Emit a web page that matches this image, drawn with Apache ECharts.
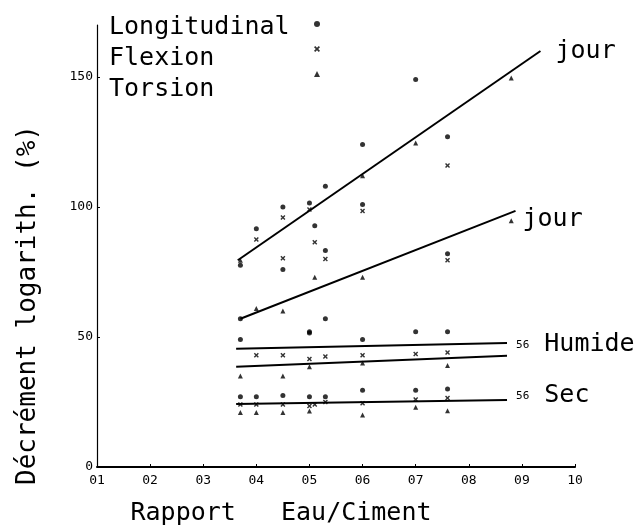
<!DOCTYPE html>
<html><head><meta charset="utf-8">
<script src="https://cdn.jsdelivr.net/npm/echarts/dist/echarts.min.js"></script>
<style>html,body{margin:0;padding:0;background:#fff}#c{width:636px;height:531px}</style>
</head><body><div id="c"></div>
<script>
// ---- data ----
const xTickLabels = ['01','02','03','04','05','06','07','08','09','10'];
const yTickValues = [0, 50, 100, 150];
const seriesNames = ['Longitudinal', 'Flexion', 'Torsion'];

const longitudinal = [
  [0.37,77.6],[0.40,91.6],[0.45,100],[0.45,76],[0.50,101.5],[0.51,92.8],[0.53,108],[0.53,83.3],
  [0.60,124],[0.60,101],[0.70,149],[0.76,127],[0.76,82],
  [0.37,57],[0.53,57],[0.50,52],[0.60,49],[0.70,52],[0.76,52],[0.37,49],[0.50,51.5],
  [0.37,27],[0.40,27],[0.45,27.5],[0.50,27],[0.53,27],[0.60,29.5],[0.70,29.5],[0.76,30]
];
const flexion = [
  [0.40,87.5],[0.45,96],[0.45,80.3],[0.50,99],[0.51,86.4],[0.53,80],[0.60,98.5],[0.76,116],[0.76,79.5],
  [0.40,43],[0.45,43],[0.50,41.5],[0.53,42.5],[0.60,43],[0.70,43.5],[0.76,44],
  [0.37,24],[0.40,24],[0.45,24],[0.50,23.5],[0.51,24],[0.53,25],[0.60,24.5],[0.70,26],[0.76,26.5]
];
const torsion = [
  [0.37,79.5],[0.51,73],[0.60,112],[0.60,73],[0.70,124.6],[0.88,149.6],[0.88,94.7],
  [0.40,61],[0.45,60],[0.37,35],[0.45,35],[0.50,38.6],[0.60,40],[0.76,39],
  [0.37,21],[0.40,21],[0.45,21],[0.50,21.5],[0.60,20],[0.70,23],[0.76,21.6]
];

const jourUpper   = [[0.365,79.5],[0.935,160]];
const jourLower   = [[0.37,57],[0.888,98.5]];
const humideUpper = [[0.362,45.5],[0.872,47.7]];
const humideLower = [[0.362,38.6],[0.872,42.8]];
const secLine     = [[0.362,24.2],[0.872,25.8]];

// ---- chart ----
const MONO = '"DejaVu Sans Mono", "Liberation Mono", monospace';
const xSym = 'path://M0,2 L2,0 L5,3 L8,0 L10,2 L7,5 L10,8 L8,10 L5,7 L2,10 L0,8 L3,5 Z';

function lineSeries(data, label, opts) {
  return Object.assign({
    type: 'line', data: data, showSymbol: false, symbol: 'none', silent: true,
    lineStyle: { color: '#000', width: 2 },
    endLabel: label ? Object.assign({ show: true, color: '#000', fontFamily: MONO, fontSize: 25 }, label) : { show: false }
  }, opts || {});
}

const chart = echarts.init(document.getElementById('c'), null, { renderer: 'canvas' });
chart.setOption({
  animation: false,
  backgroundColor: '#fff',
  grid: { left: 97, right: 61, top: 25, bottom: 56 },
  legend: [
    {
      data: seriesNames, orient: 'vertical', left: 99, top: 7, icon: 'none',
      itemWidth: 0, itemHeight: 0, itemGap: 1,
      textStyle: { fontFamily: MONO, fontSize: 25, color: '#000', lineHeight: 30 }
    },
    {
      data: seriesNames, orient: 'vertical', left: 309, top: 16,
      itemWidth: 6, itemHeight: 6, itemGap: 19,
      formatter: () => '',
      textStyle: { fontSize: 4, lineHeight: 4 }
    }
  ],
  xAxis: {
    type: 'value', min: 0.1, max: 1.0, interval: 0.1,
    name: 'Rapport   Eau/Ciment', nameLocation: 'middle', nameGap: 34,
    nameTextStyle: { fontFamily: MONO, fontSize: 25, color: '#000', padding: [0, 110, 0, 0] },
    axisLine: { lineStyle: { color: '#000', width: 2 } },
    axisTick: { inside: true, length: 3, lineStyle: { color: '#000' } },
    axisLabel: {
      color: '#000', fontFamily: MONO, fontSize: 13, margin: 7,
      formatter: v => xTickLabels[Math.round(v * 10) - 1] || ''
    },
    splitLine: { show: false }
  },
  yAxis: {
    type: 'value', min: 0, max: 170, interval: 50,
    name: 'Décrément logarith. (%)', nameLocation: 'middle', nameGap: 56, nameRotate: 90,
    nameTextStyle: { fontFamily: MONO, fontSize: 26, color: '#000', padding: [0, 118, 0, 0] },
    axisLine: { show: true, lineStyle: { color: '#000', width: 1.2 } },
    axisTick: { show: true, inside: true, length: 3, lineStyle: { color: '#000' } },
    axisLabel: {
      color: '#000', fontFamily: MONO, fontSize: 13, margin: 4, showMaxLabel: false,
      formatter: v => (yTickValues.indexOf(v) >= 0 ? String(v) : '')
    },
    splitLine: { show: false }
  },
  series: [
    { name: 'Longitudinal', type: 'scatter', data: longitudinal, symbol: 'circle', symbolSize: 5, itemStyle: { color: '#000' } },
    { name: 'Flexion', type: 'scatter', data: flexion, symbol: xSym, symbolSize: 5, itemStyle: { color: '#000' } },
    { name: 'Torsion', type: 'scatter', data: torsion, symbol: 'triangle', symbolSize: 5, itemStyle: { color: '#000' } },
    lineSeries(jourUpper, { formatter: 'jour', distance: 15, offset: [0, 0] }),
    lineSeries(jourLower, { formatter: 'jour', distance: 7, offset: [0, 9] }),
    lineSeries(humideUpper, {
      formatter: '{s|56}{b| Humide}', distance: 9, offset: [0, 2],
      rich: { s: { fontFamily: MONO, fontSize: 11, color: '#000' }, b: { fontFamily: MONO, fontSize: 25, color: '#000' } }
    }),
    lineSeries(humideLower, null),
    lineSeries(secLine, {
      formatter: '{s|56}{b| Sec}', distance: 9, offset: [0, -4],
      rich: { s: { fontFamily: MONO, fontSize: 11, color: '#000' }, b: { fontFamily: MONO, fontSize: 25, color: '#000' } }
    })
  ]
});
</script>
</body></html>
